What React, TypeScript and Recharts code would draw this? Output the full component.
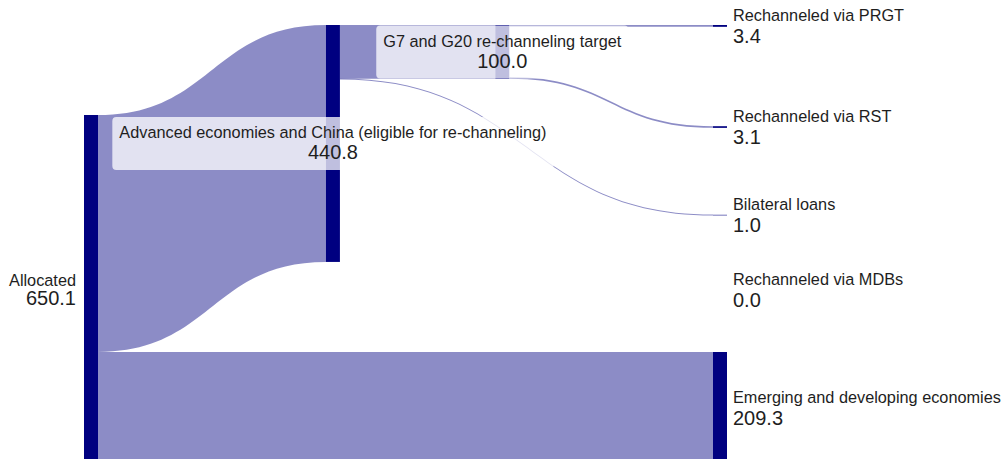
import React from 'react';
import { Sankey } from 'recharts';

// ---- Data ----
const ALLOCATED = 'Allocated';
const ADVANCED = 'Advanced economies and China (eligible for re-channeling)';
const G7 = 'G7 and G20 re-channeling target';
const PRGT = 'Rechanneled via PRGT';
const RST = 'Rechanneled via RST';
const BILATERAL = 'Bilateral loans';
const MDBS = 'Rechanneled via MDBs';
const EMERGING = 'Emerging and developing economies';

const flowSources = [ALLOCATED, ALLOCATED, ADVANCED, ADVANCED, G7, G7, G7];
const flowTargets = [ADVANCED, EMERGING, G7, BILATERAL, PRGT, RST, MDBS];
const flowValues = [440.8, 209.3, 100.0, 1.0, 3.4, 3.1, 0.0];

// ---- Layout helpers: invisible spacer nodes / links used only to position nodes ----
const SPACER_TOP = '__spacer_top';
const SPACER_BOTTOM = '__spacer_bottom';
const SPACER_VALUE = 144.32; // pushes the first column down
const CHAIN_LEN = 25; // hidden chain of zero-value nodes giving a fine column grid
const ADVANCED_DEPTH = 10;
const G7_DEPTH = 17;
const MAX_DEPTH = CHAIN_LEN + 1;
const NODE_PADDING = 12.422;
const chainName = (i: number) => `__chain_${i}`;

// last column: real sinks in order, with number of padding units between consecutive ones
const lastColumn = [PRGT, RST, BILATERAL, MDBS, EMERGING];
const lastColumnGapUnits = [8, 7, 6, 5];

const lastColumnOrder: string[] = [];
lastColumn.forEach((name, i) => {
  lastColumnOrder.push(name);
  if (i < lastColumnGapUnits.length) {
    for (let j = 1; j < lastColumnGapUnits[i]; j++) lastColumnOrder.push(`__gap_${i}_${j}`);
  }
});

const nodeLayoutOrder = [
  SPACER_TOP,
  ADVANCED,
  G7,
  ...lastColumnOrder,
  SPACER_BOTTOM,
  ALLOCATED,
  ...Array.from({ length: CHAIN_LEN }, (_, i) => chainName(i + 1)),
];

const nodes = nodeLayoutOrder.map((name) => ({ name }));
const idx = (n: string) => nodeLayoutOrder.indexOf(n);

// G7 amount not yet re-channeled (hidden), so the visible outflows leave from the node's bottom
const g7Value = flowValues[flowTargets.indexOf(G7)];
const g7Out = flowValues.reduce((s, v, i) => (flowSources[i] === G7 ? s + v : s), 0);

const layoutLinks = [
  { source: idx(SPACER_TOP), target: idx(SPACER_BOTTOM), value: SPACER_VALUE },
  { source: idx(SPACER_TOP), target: idx(chainName(1)), value: 0 },
  ...Array.from({ length: CHAIN_LEN - 1 }, (_, i) => ({
    source: idx(chainName(i + 1)),
    target: idx(chainName(i + 2)),
    value: 0,
  })),
  { source: idx(chainName(CHAIN_LEN)), target: idx(SPACER_BOTTOM), value: 0 },
  { source: idx(chainName(ADVANCED_DEPTH - 1)), target: idx(ADVANCED), value: 0 },
  { source: idx(chainName(G7_DEPTH - 1)), target: idx(G7), value: 0 },
  { source: idx(G7), target: idx(chainName(G7_DEPTH + 1)), value: g7Value - g7Out },
];

const links = [
  ...layoutLinks,
  ...flowSources.map((s, i) => ({ source: idx(s), target: idx(flowTargets[i]), value: flowValues[i] })),
];

const FONT = "'Liberation Sans', Arial, Helvetica, sans-serif";
const NAME_SIZE = 16.3;
const VALUE_SIZE = 20;
const NODE_COLOR = '#000080';
const LINK_COLOR = 'rgba(0,0,128,0.45)';
const TEXT_COLOR = '#1e1e1e';

let measureCtx: CanvasRenderingContext2D | null = null;
function measure(text: string, size: number): number {
  try {
    if (!measureCtx) measureCtx = document.createElement('canvas').getContext('2d');
    if (measureCtx) {
      measureCtx.font = `${size}px ${FONT}`;
      return measureCtx.measureText(text).width;
    }
  } catch (e) {
    /* ignore */
  }
  return text.length * size * 0.48;
}

const isSpacer = (name: string) => name.startsWith('__');

const renderNode = (props: any) => {
  const { x, y, width, height, payload } = props;
  const name: string = payload.name;
  if (isSpacer(name)) return <g />;
  const cx = x + width / 2;
  const cy = y + height / 2;
  const valueText = Number(payload.value).toFixed(1);
  const depth = payload.depth;
  const rect = height > 0 ? <rect x={x} y={y} width={width} height={height} fill={NODE_COLOR} /> : null;

  if (depth === 0) {
    const tx = x - 8;
    return (
      <g>
        {rect}
        <text x={tx} y={cy - 4} textAnchor="end" fontFamily={FONT} fontSize={NAME_SIZE} fill={TEXT_COLOR}>{name}</text>
        <text x={tx} y={cy + 15} textAnchor="end" fontFamily={FONT} fontSize={VALUE_SIZE} fill={TEXT_COLOR}>{valueText}</text>
      </g>
    );
  }
  if (depth === MAX_DEPTH) {
    const tx = x + width + 6;
    return (
      <g>
        {rect}
        <text x={tx} y={cy - 5} textAnchor="start" fontFamily={FONT} fontSize={NAME_SIZE} fill={TEXT_COLOR}>{name}</text>
        <text x={tx} y={cy + 17} textAnchor="start" fontFamily={FONT} fontSize={VALUE_SIZE} fill={TEXT_COLOR}>{valueText}</text>
      </g>
    );
  }
  const w = Math.max(measure(name, NAME_SIZE), measure(valueText, VALUE_SIZE));
  const bw = w + 14;
  return (
    <g>
      {rect}
      <rect x={cx - bw / 2} y={cy - 26.5} width={bw} height={53} rx={4} ry={4} fill="rgba(255,255,255,0.75)" />
      <text x={cx} y={cy - 5} textAnchor="middle" fontFamily={FONT} fontSize={NAME_SIZE} fill={TEXT_COLOR}>{name}</text>
      <text x={cx} y={cy + 16} textAnchor="middle" fontFamily={FONT} fontSize={VALUE_SIZE} fill={TEXT_COLOR}>{valueText}</text>
    </g>
  );
};

const renderLink = (props: any) => {
  const { sourceX, targetX, sourceY, targetY, sourceControlX, targetControlX, linkWidth, payload } = props;
  const src = typeof payload.source === 'object' ? payload.source : nodes[payload.source];
  const tgt = typeof payload.target === 'object' ? payload.target : nodes[payload.target];
  if (!src || !tgt || isSpacer(src.name) || isSpacer(tgt.name) || !(linkWidth > 0)) return <g />;
  const h = Math.max(linkWidth, 1) / 2;
  const d = `M${sourceX},${sourceY - h} C${sourceControlX},${sourceY - h} ${targetControlX},${targetY - h} ${targetX},${targetY - h} L${targetX},${targetY + h} C${targetControlX},${targetY + h} ${sourceControlX},${sourceY + h} ${sourceX},${sourceY + h} Z`;
  return <path d={d} fill={LINK_COLOR} stroke="none" />;
};

export default function App() {
  return (
    <div style={{ position: 'fixed', left: 0, top: 0, width: 1006, height: 459, overflow: 'hidden', background: '#fff' }}>
      <Sankey
        width={1006}
        height={554.5}
        data={{ nodes, links }}
        margin={{ top: 25, left: 84, right: 279, bottom: 0 }}
        nodeWidth={14}
        nodePadding={NODE_PADDING}
        iterations={0}
        sort={false}
        linkCurvature={0.5}
        node={renderNode}
        link={renderLink}
        isAnimationActive={false}
      />
    </div>
  );
}
